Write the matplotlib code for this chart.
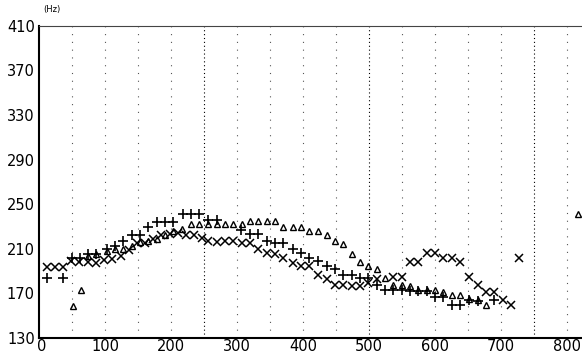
import matplotlib
matplotlib.use('Agg')
import matplotlib.pyplot as plt
from matplotlib.transforms import ScaledTranslation

plt.rcParams['font.family'] = ['Liberation Sans Narrow', 'DejaVu Sans']

# cross series
x_cross = [12, 24, 36, 49, 61, 74, 86, 99, 111, 124, 136, 148, 161, 173, 185, 198, 210,
           223, 235, 247, 256, 270, 282, 294, 308, 320, 332, 345, 358, 370, 385, 397, 409,
           423, 436, 448, 461, 474, 486, 498, 512, 536, 550, 562, 574, 588, 600, 612, 626,
           638, 652, 665, 677, 689, 703, 715, 727]
y_cross = [194, 194, 194, 199, 198, 198, 197, 200, 201, 204, 209, 215, 215, 219, 222, 223, 224,
           222, 222, 220, 217, 216, 217, 217, 215, 215, 210, 206, 205, 202, 197, 195, 195,
           187, 183, 178, 178, 177, 177, 179, 183, 185, 185, 198, 198, 206, 206, 202, 202,
           198, 185, 178, 171, 171, 164, 160, 202]

# plus series
x_plus = [12, 36, 50, 62, 74, 87, 103, 115, 127, 141, 153, 165, 179, 191, 203, 218, 230, 242,
          256, 270, 306, 320, 332, 345, 358, 370, 385, 397, 409, 423, 436, 448, 461, 474,
          486, 498, 512, 524, 536, 550, 562, 574, 588, 600, 612, 626, 638, 652, 665, 689]
y_plus = [184, 184, 202, 202, 205, 205, 210, 213, 217, 222, 222, 230, 234, 234, 234, 241, 241, 241,
          236, 236, 227, 223, 223, 217, 215, 215, 210, 206, 202, 199, 195, 192, 187, 187,
          184, 184, 178, 173, 173, 173, 172, 172, 172, 167, 167, 160, 160, 164, 163, 164]

# triangle series
x_tri = [52, 64, 74, 87, 103, 115, 127, 141, 153, 165, 179, 191, 203, 217, 230, 242, 256, 270,
         282, 294, 308, 320, 332, 345, 358, 370, 385, 397, 409, 423, 436, 448, 461, 474, 486,
         498, 512, 524, 536, 550, 562, 574, 588, 600, 612, 626, 638, 652, 665, 677, 817]
y_tri = [159, 173, 204, 205, 208, 210, 210, 213, 216, 217, 219, 222, 226, 228, 232, 232, 232, 232,
         232, 232, 232, 235, 235, 235, 235, 230, 230, 230, 226, 226, 222, 217, 214, 205, 198,
         195, 192, 184, 178, 178, 177, 173, 173, 173, 171, 169, 169, 165, 164, 160, 241]

x_ticks = [0, 100, 200, 300, 400, 500, 600, 700, 800]
y_ticks = [130, 170, 210, 250, 290, 330, 370, 410]
grid_x = [50, 100, 150, 200, 250, 300, 350, 400, 450, 500, 550, 600, 650, 700, 750, 800]

fig = plt.figure(figsize=(5.82, 3.54), dpi=100)
ax = fig.add_axes([0.067, 0.045, 0.933, 0.882])

for g in grid_x:
    if g in (250, 500, 750):
        ax.axvline(g, color='black', linestyle=(0, (1, 2.5)), linewidth=0.8, zorder=1)
    else:
        ax.axvline(g, color='#555555', linestyle=(0, (1, 6)), linewidth=0.8, zorder=1)

ax.plot(x_cross, y_cross, linestyle='none', marker='x', markersize=6, color='black',
        markeredgewidth=1.1, zorder=3)
ax.plot(x_plus, y_plus, linestyle='none', marker='+', markersize=7, color='black',
        markeredgewidth=1.2, zorder=3)
ax.plot(x_tri, y_tri, linestyle='none', marker='^', markersize=5, markerfacecolor='none',
        markeredgecolor='black', markeredgewidth=1.0, zorder=3)

ax.set_xlim(0, 823)
ax.set_ylim(130, 410)
ax.set_xticks(x_ticks)
ax.set_yticks(y_ticks)
ax.tick_params(length=0, labelsize=10.5, pad=1)
ax.tick_params(axis='y', pad=3)
ax.spines['right'].set_visible(False)
ax.spines['top'].set_color('#444444')
ax.spines['left'].set_linewidth(1.5)
ax.spines['bottom'].set_linewidth(1.5)

# nudge the "0" label off the "130" label
first = ax.get_xticklabels()[0]
first.set_transform(first.get_transform() + ScaledTranslation(3 / 100, 0, fig.dpi_scale_trans))

fig.text(0.075, 0.965, '(Hz)', fontsize=6)

fig.savefig('out.png', dpi=100)
